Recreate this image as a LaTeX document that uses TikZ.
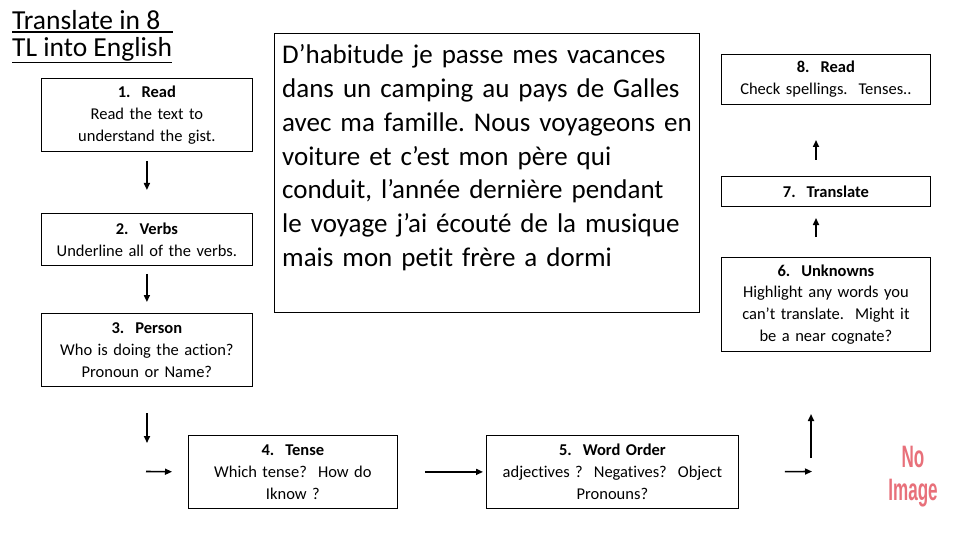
\documentclass[tikz,border=0pt]{standalone}
\usepackage{fontspec}
\setmainfont[Ligatures=NoCommon]{Carlito}
\newfontfamily\noimgfont{Liberation Sans}
\usetikzlibrary{arrows.meta}
\definecolor{noimg}{RGB}{232,112,122}
\newcommand\myul[2]{\setbox0\hbox{#2}\rlap{\rule[-#1]{\wd0}{1.3pt}}\box0}
\frenchspacing
\begin{document}
\begin{tikzpicture}[x=1pt,y=-1pt,
  box/.style={draw, line width=0.8pt, inner sep=0pt, align=center,
    font=\fontsize{16.5}{21.8}\selectfont, anchor=north west},
  arr/.style={line width=1.6pt, -{Triangle[length=7pt,width=6pt]}}]
\useasboundingbox[fill=white] (0,0) rectangle (960,540);

% title
\node[anchor=base west, inner sep=0pt, font=\fontsize{27.5}{27}\selectfont] (t1) at (12,29.5) {\myul{3.2pt}{Translate in 8\hspace{13pt}}};
\node[anchor=base west, inner sep=0pt, font=\fontsize{27.5}{27}\selectfont] (t2) at (12,57) {\myul{6pt}{TL into English}};

% left column
\node[box, text width=211pt, minimum height=73pt] (b1) at (41,78) {\textbf{1.\ \ Read}\\Read the text to\\understand the gist.};
\node[box, text width=211pt, minimum height=52pt] (b2) at (41,213) {\textbf{2.\ \ Verbs}\\Underline all of the verbs.};
\node[box, text width=211pt, minimum height=73pt] (b3) at (41,313) {\textbf{3.\ \ Person}\\Who is doing the action?\\Pronoun or Name?};

% bottom row
\node[box, text width=209pt, minimum height=73pt] (b4) at (188,435) {\textbf{4.\ \ Tense}\\Which tense?\ \ How do\\Iknow ?};
\node[box, text width=252pt, minimum height=73pt] (b5) at (486,435) {\textbf{5.\ \ Word Order}\\adjectives ?\ \ Negatives?\ \ Object\\Pronouns?};

% right column
\node[box, text width=209pt, minimum height=94pt] (b6) at (721,257) {\textbf{6.\ \ Unknowns}\\Highlight any words you\\can't translate.\ \ Might it\\be a near cognate?};
\node[box, text width=209pt, minimum height=30pt] (b7) at (721,176) {\textbf{7.\ \ Translate}};
\node[box, text width=209pt, minimum height=50pt] (b8) at (721,54) {\textbf{8.\ \ Read}\\Check spellings.\ \ Tenses..};

% passage
\node[draw, line width=0.8pt, anchor=north west, minimum width=425pt, minimum height=279pt, inner sep=0pt] (tb) at (274,33) {};
\node[anchor=base west, inner sep=0pt, text width=440pt, align=left,
  font=\fontsize{27}{33.7}\selectfont] (pass) at (282,64) {D'habitude je passe mes vacances\\dans un camping au pays de Galles\\avec ma famille. Nous voyageons en\\voiture et c'est mon père qui\\conduit, l'année dernière pendant\\le voyage j'ai écouté de la musique\\mais mon petit frère a dormi};

% no image
\node[text=noimg, font=\noimgfont\bfseries\fontsize{31}{33}\selectfont, align=center, xscale=0.55, inner sep=0pt] (ni) at (913,476.5) {No\\Image};

% free arrow ends
\coordinate (c3a) at (147,413);
\coordinate (c3b) at (147,443);
\coordinate (c4in) at (146,471.5);
\coordinate (c5out) at (812,471.5);
\coordinate (cupa) at (811,458);
\coordinate (cupb) at (811,414);
\coordinate (c67a) at (816,237);
\coordinate (c67b) at (816,218);
\coordinate (c78a) at (816,160);
\coordinate (c78b) at (816,140);

% arrows
\draw[arr, shorten <=9pt, shorten >=23pt] (b1.south) -- (b2.north);
\draw[arr, shorten <=8pt, shorten >=11pt] (b2.south) -- (b3.north);
\draw[arr] (c3a) -- (c3b);
\draw[arr, shorten >=16pt] (c4in) -- (b4.west);
\draw[arr, shorten <=27pt, shorten >=3pt] (b4.east) -- (b5.west);
\draw[arr, shorten <=46pt] (b5.east) -- (c5out);
\draw[arr] (cupa) -- (cupb);
\draw[arr] (c67a) -- (c67b);
\draw[arr] (c78a) -- (c78b);
\end{tikzpicture}
\end{document}
